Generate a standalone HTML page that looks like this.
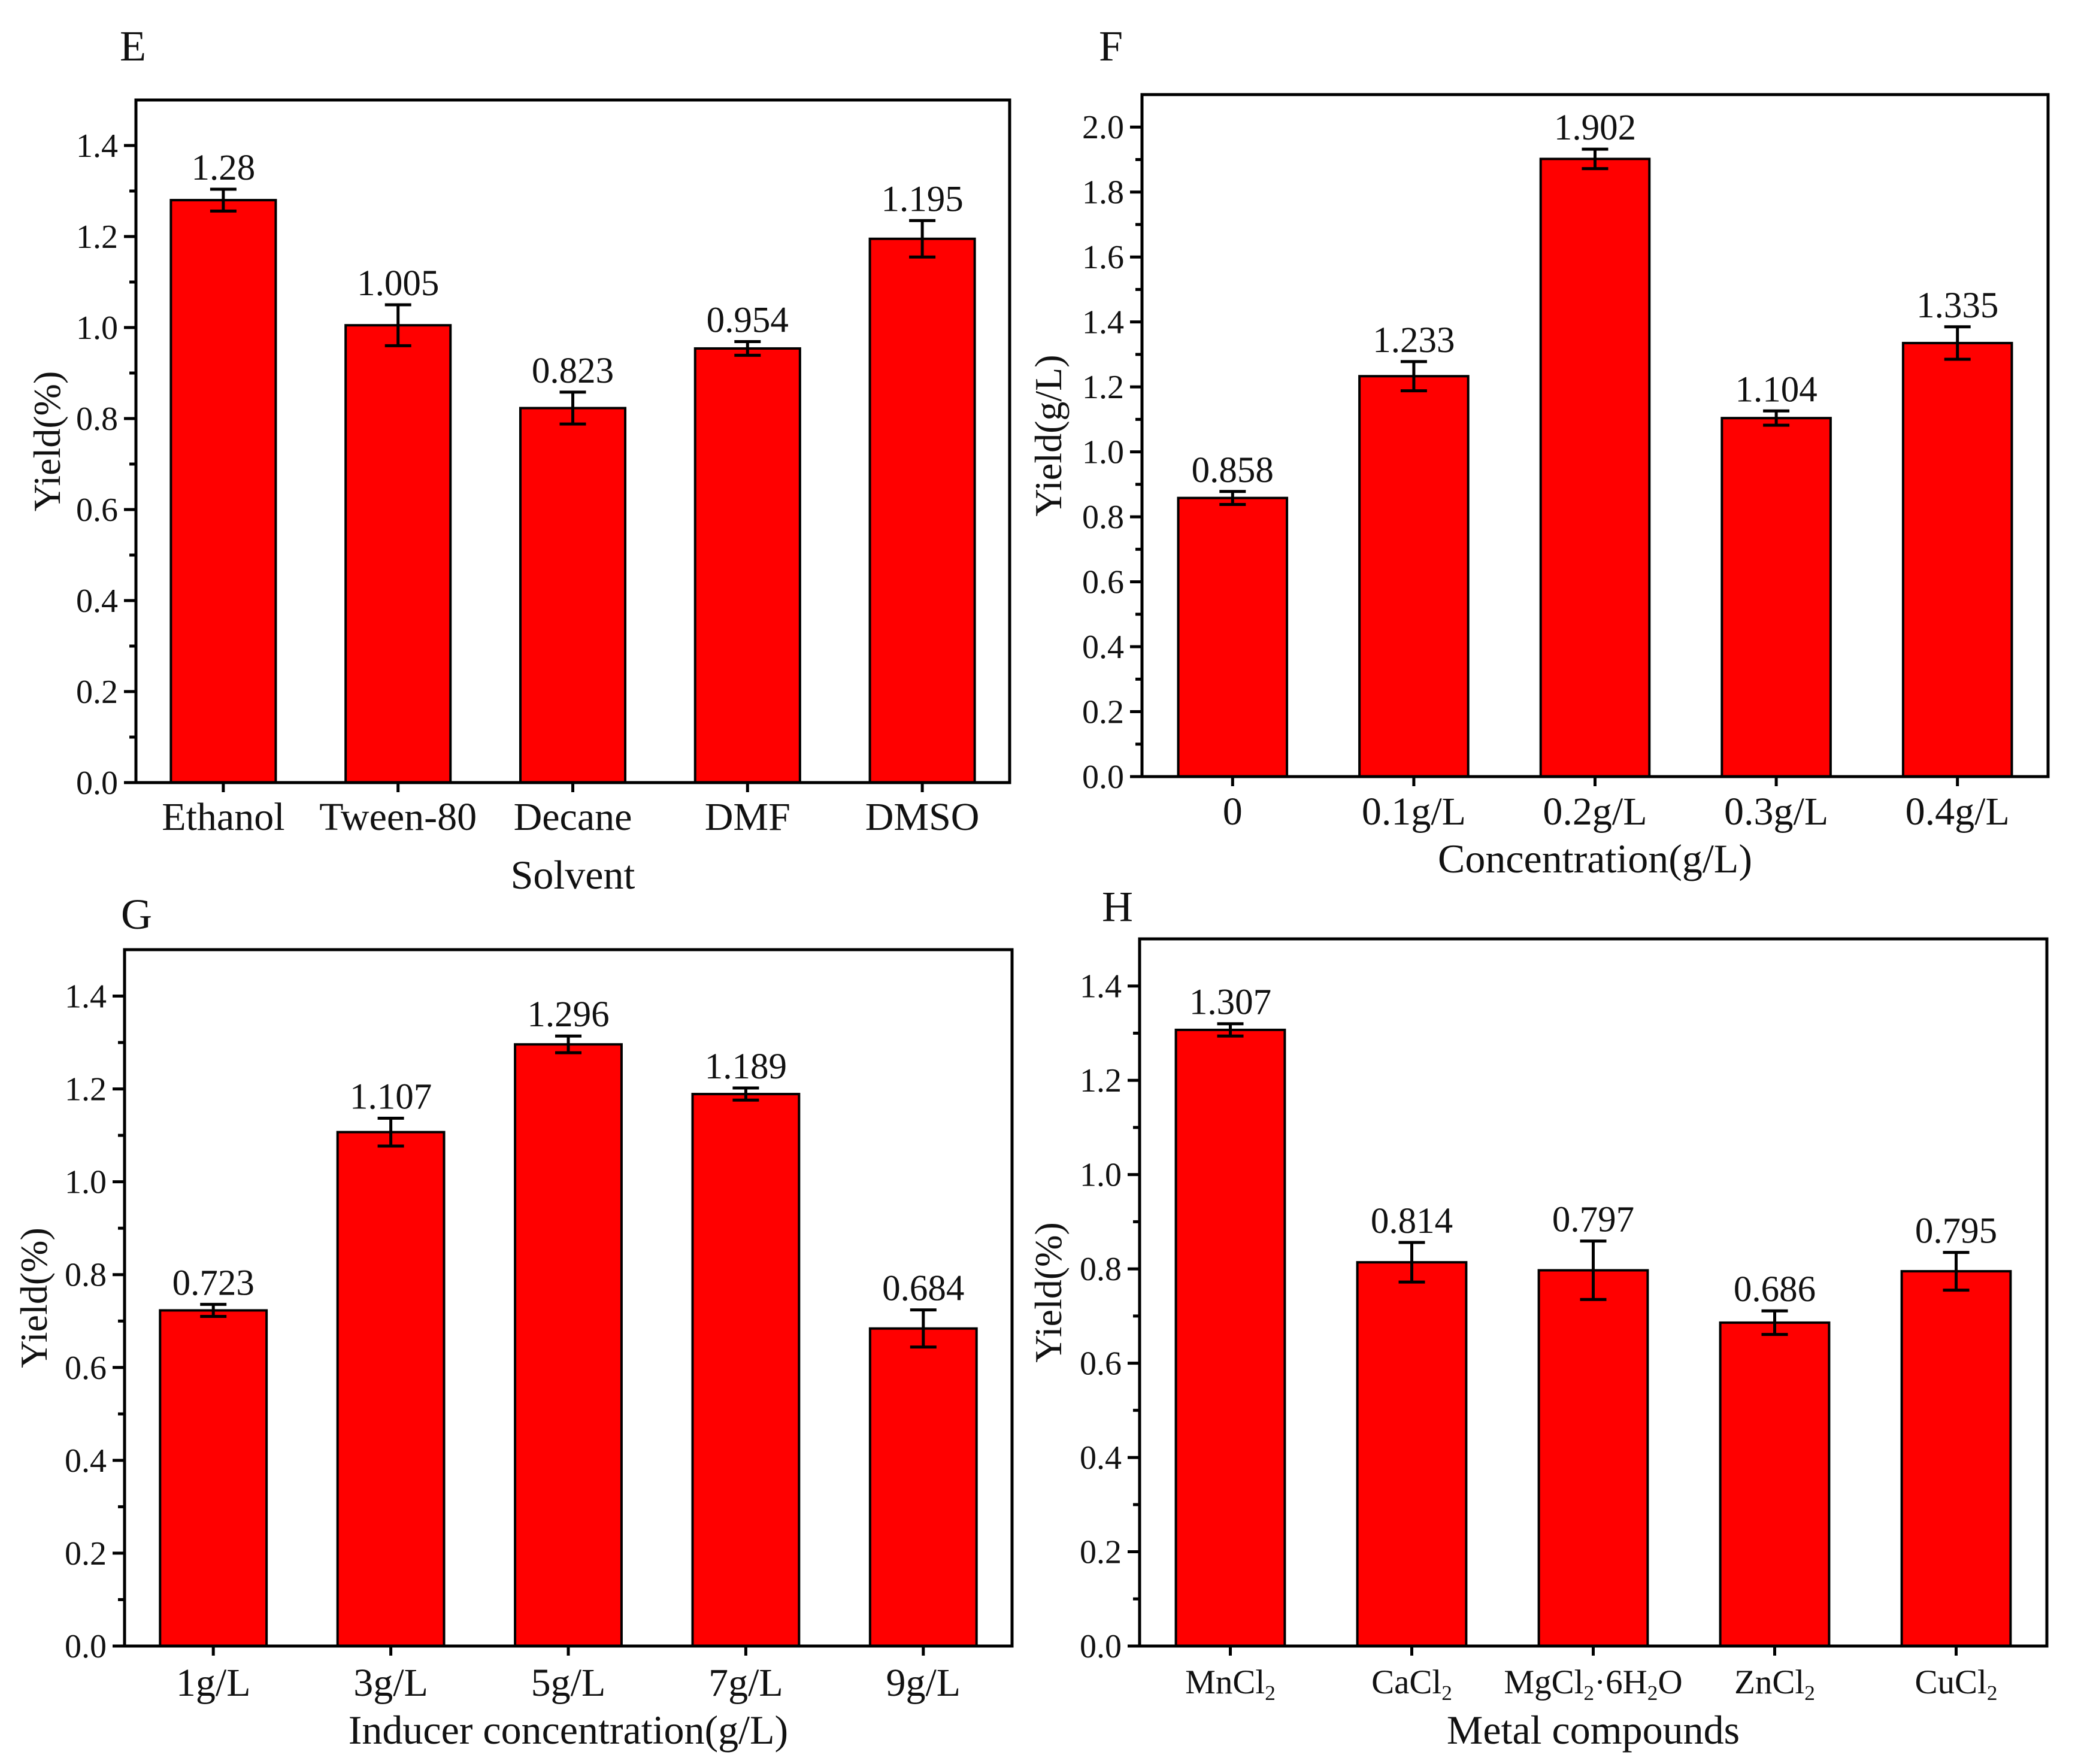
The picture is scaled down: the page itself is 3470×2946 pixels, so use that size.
<!DOCTYPE html>
<html><head><meta charset="utf-8">
<style>
html,body{margin:0;padding:0;background:#fff;}
svg{display:block;}
text{font-family:"Liberation Serif",serif;fill:#111;}
</style></head>
<body>
<svg id="fig" width="3470" height="2946" viewBox="0 0 3470 2946" xmlns="http://www.w3.org/2000/svg"></svg>
<script>
// Panel E
const catsE = ["Ethanol","Tween-80","Decane","DMF","DMSO"];
const valsE = [1.28,1.005,0.823,0.954,1.195];
const errsE = [0.024,0.045,0.035,0.015,0.04];
const lblsE = ["1.28","1.005","0.823","0.954","1.195"];
// Panel F
const catsF = ["0","0.1g/L","0.2g/L","0.3g/L","0.4g/L"];
const valsF = [0.858,1.233,1.902,1.104,1.335];
const errsF = [0.02,0.045,0.03,0.022,0.05];
const lblsF = ["0.858","1.233","1.902","1.104","1.335"];
// Panel G
const catsG = ["1g/L","3g/L","5g/L","7g/L","9g/L"];
const valsG = [0.723,1.107,1.296,1.189,0.684];
const errsG = [0.013,0.03,0.018,0.013,0.04];
const lblsG = ["0.723","1.107","1.296","1.189","0.684"];
// Panel H
const catsH = [["MnCl","2",""],["CaCl","2",""],["MgCl","2","·6H","2","O"],["ZnCl","2",""],["CuCl","2",""]];
const valsH = [1.307,0.814,0.797,0.686,0.795];
const errsH = [0.013,0.042,0.062,0.025,0.04];
const lblsH = ["1.307","0.814","0.797","0.686","0.795"];
const ticksA = ["0.0","0.2","0.4","0.6","0.8","1.0","1.2","1.4"];
const ticksF = ["0.0","0.2","0.4","0.6","0.8","1.0","1.2","1.4","1.6","1.8","2.0"];

const NS="http://www.w3.org/2000/svg";
const svg=document.getElementById('fig');
function mk(tag,attrs,parent){const e=document.createElementNS(NS,tag);for(const k in attrs)e.setAttribute(k,attrs[k]);(parent||svg).appendChild(e);return e;}

function panel(p){
  const g=mk('g',{});
  
  
  const L=p.l,R=p.r,T=p.t,B=p.b;
  const y=v=>B-(v/p.ymax)*(B-T);
  const n=p.cats.length, slot=(R-L)/n;
  const x=i=>L+slot*(i+0.5);
  const bw=slot*0.6;
  p.vals.forEach((v,i)=>{
    const r=mk('rect',{x:x(i)-bw/2,y:y(v),width:bw,height:B-y(v),fill:'#ff0000',stroke:'#000','stroke-width':4},g);
    
    
    const e=p.errs[i];
    const eb=mk('g',{stroke:'#000','stroke-width':5},g);
    
    
    mk('line',{x1:x(i),x2:x(i),y1:y(v+e),y2:y(v-e)},eb);
    mk('line',{x1:x(i)-22,x2:x(i)+22,y1:y(v+e),y2:y(v+e)},eb);
    mk('line',{x1:x(i)-22,x2:x(i)+22,y1:y(v-e),y2:y(v-e)},eb);
    const t=mk('text',{x:x(i),y:y(v+e)-16,'text-anchor':'middle','font-size':61},g);
    t.textContent=p.lbls[i];
    
    
    mk('line',{x1:x(i),x2:x(i),y1:B,y2:B+16,stroke:'#000','stroke-width':5},g);
    const ct=mk('text',{x:x(i),y:p.catY,'text-anchor':'middle','font-size':p.catSize},g);
    
    
    const c=p.cats[i];
    if(Array.isArray(c)){
      c.forEach((s,k)=>{if(!s)return;const ts=mk('tspan',{},ct);ts.textContent=s;
        if(k%2===1){ts.setAttribute('baseline-shift','-30%');ts.setAttribute('font-size',p.catSize*0.62);}});
    } else ct.textContent=c;
  });
  p.ticks.forEach((s,i)=>{
    const v=parseFloat(s);
    mk('line',{x1:L-20,x2:L,y1:y(v),y2:y(v),stroke:'#000','stroke-width':5},g);
    if(v+0.1<p.ymax) mk('line',{x1:L-11,x2:L,y1:y(v+0.1),y2:y(v+0.1),stroke:'#000','stroke-width':5},g);
    const t=mk('text',{x:L-30,y:y(v)+19,'text-anchor':'end','font-size':56},g);
    t.textContent=s;
    
    
  });
  const fr=mk('rect',{x:L,y:T,width:R-L,height:B-T,fill:'none',stroke:'#000','stroke-width':5},g);
  
  
  const xt=mk('text',{x:(L+R)/2,y:p.titleY,'text-anchor':'middle','font-size':68},g);
  xt.textContent=p.xtitle;
  
  
  const yt=mk('text',{x:0,y:0,'text-anchor':'middle','font-size':64,transform:`translate(${p.ytx},${(T+B)/2}) rotate(-90)`},g);
  yt.textContent=p.ytitle;
  
  
  const pl=mk('text',{x:p.lx,y:p.ly,'font-size':72},g);
  pl.textContent=p.id;
  
  
}

panel({id:'E',l:227,r:1686,t:167,b:1307,ymax:1.5,cats:catsE,vals:valsE,errs:errsE,lbls:lblsE,ticks:ticksA,
  catY:1386,catSize:66,titleY:1484,xtitle:'Solvent',ytitle:'Yield(%)',ytx:100,lx:200,ly:101});
panel({id:'F',l:1907,r:3420,t:158,b:1297,ymax:2.1,cats:catsF,vals:valsF,errs:errsF,lbls:lblsF,ticks:ticksF,
  catY:1377,catSize:66,titleY:1457,xtitle:'Concentration(g/L)',ytitle:'Yield(g/L)',ytx:1772,lx:1835,ly:101});
panel({id:'G',l:208,r:1690,t:1586,b:2749,ymax:1.5,cats:catsG,vals:valsG,errs:errsG,lbls:lblsG,ticks:ticksA,
  catY:2832,catSize:66,titleY:2912,xtitle:'Inducer concentration(g/L)',ytitle:'Yield(%)',ytx:78,lx:202,ly:1551});
panel({id:'H',l:1903,r:3418,t:1568,b:2749,ymax:1.5,cats:catsH,vals:valsH,errs:errsH,lbls:lblsH,ticks:ticksA,
  catY:2828,catSize:57,titleY:2912,xtitle:'Metal compounds',ytitle:'Yield(%)',ytx:1772,lx:1840,ly:1538});
</script>
</body></html>
